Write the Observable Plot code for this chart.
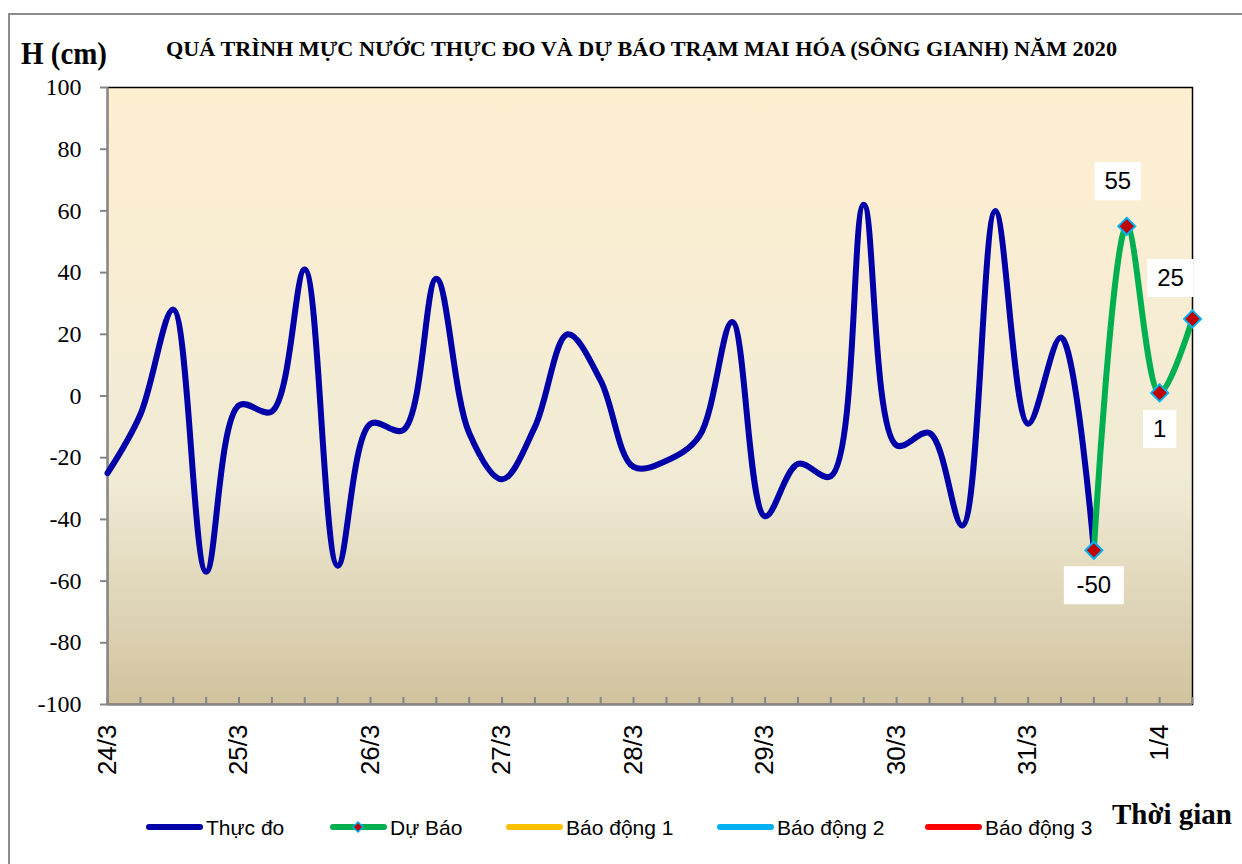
<!DOCTYPE html>
<html><head><meta charset="utf-8">
<script src="https://cdn.jsdelivr.net/npm/d3@7"></script>
<script src="https://cdn.jsdelivr.net/npm/@observablehq/plot@0.6"></script>
<style>
html,body{margin:0;padding:0;background:#fff;}
#wrap{position:relative;width:1242px;height:864px;overflow:hidden;background:#fff;}
#chart{position:absolute;left:0;top:0;}
#overlay{position:absolute;left:0;top:0;}
</style></head><body>
<div id="wrap"><div id="chart"></div><svg id="overlay" width="1242" height="864"></svg></div>
<script>
// ---------- data ----------
const title = "QUÁ TRÌNH MỰC NƯỚC THỰC ĐO VÀ DỰ BÁO TRẠM MAI HÓA (SÔNG GIANH) NĂM  2020";
const yTitle = "H (cm)";
const xTitle = "Thời gian";
const seriesNames = ["Thực đo", "Dự Báo", "Báo động 1", "Báo động 2", "Báo động 3"];
const seriesColors = ["#0000A8", "#00B050", "#FFC000", "#00B0F0", "#FF0000"];
// measured water level, every 6 hours from 24/3 00h
const measured = [-25, -6, 28, -57, -3, -5, 41, -55, -9, -11, 38, -12, -27, -10, 20, 5,
  -23, -21, -13, 24, -39, -22, -26, 62, -16, -12, -42, 60, -9, 19, -50];
// forecast, every 6 hours from 31/3 12h
const forecast = [-50, 55, 1, 25];
const measuredStart = "2020-03-24T00:00Z";
const forecastStart = "2020-03-31T12:00Z";
const stepHours = 6;
const dayLabels = ["24/3", "25/3", "26/3", "27/3", "28/3", "29/3", "30/3", "31/3", "1/4"];
const yTicks = [-100, -80, -60, -40, -20, 0, 20, 40, 60, 80, 100];

// ---------- build tables ----------
const t0 = new Date(measuredStart);
const tf = new Date(forecastStart);
const measuredData = measured.map((v, i) => ({t: d3.utcHour.offset(t0, i * stepHours), v}));
const forecastData = forecast.map((v, i) => ({t: d3.utcHour.offset(tf, i * stepHours), v}));
const tEnd = forecastData[forecastData.length - 1].t;
const dayTicks = dayLabels.map((_, i) => d3.utcDay.offset(t0, i));
const dayLabelOf = new Map(dayTicks.map((d, i) => [+d, dayLabels[i]]));
const minorTicks = d3.utcHour.every(stepHours).range(t0, d3.utcHour.offset(tEnd, 1));

// ---------- styles ----------
const axisGray = "#868686";
const serif = "Liberation Serif";
const sans = "Liberation Sans";
const labelOffsets = [[0, 35], [-9, -45], [0, 36], [-22, -41]];
const diamond = (s) => ({draw(ctx) { ctx.moveTo(0, -s); ctx.lineTo(s, 0); ctx.lineTo(0, s); ctx.lineTo(-s, 0); ctx.closePath(); }});
const box = (w, h) => ({draw(ctx) { ctx.rect(-w / 2, -h / 2, w, h); }});

function background(index, scales, values, dims) {
  const g = d3.create("svg:g");
  const grad = g.append("defs").append("linearGradient")
    .attr("id", "parchment").attr("x1", 0).attr("y1", 0).attr("x2", 0).attr("y2", 1);
  grad.append("stop").attr("offset", "0%").attr("stop-color", "#FFEFD1");
  grad.append("stop").attr("offset", "64%").attr("stop-color", "#F0EBD5");
  grad.append("stop").attr("offset", "100%").attr("stop-color", "#D1C39F");
  g.append("rect")
    .attr("x", dims.marginLeft).attr("y", dims.marginTop)
    .attr("width", dims.width - dims.marginLeft - dims.marginRight)
    .attr("height", dims.height - dims.marginTop - dims.marginBottom)
    .attr("fill", "url(#parchment)");
  return g.node();
}

const labelMarks = forecastData.flatMap((d, i) => {
  const txt = String(d.v);
  const w = txt.length * 13.3 + 20;
  const [dx, dy] = labelOffsets[i];
  return [
    Plot.dot([d], {x: "t", y: "v", symbol: box(w, 38), r: 10, fill: "white", stroke: "none", dx, dy}),
    Plot.text([d], {x: "t", y: "v", text: () => txt, dx, dy, fontSize: 24, fill: "black", fontFamily: sans})
  ];
});

const lineOpts = {x: "t", y: "v", curve: "catmull-rom", strokeWidth: 6, strokeLinecap: "round", strokeLinejoin: "round"};

const chart = Plot.plot({
  width: 1242, height: 864,
  marginLeft: 107, marginRight: 50, marginTop: 87, marginBottom: 160,
  style: {background: "transparent", fontFamily: sans, color: "black", overflow: "visible"},
  x: {type: "utc", domain: [t0, tEnd]},
  y: {domain: [-100, 100]},
  marks: [
    background,
    Plot.frame({stroke: "black", strokeWidth: 1.5}),
    Plot.ruleX([t0], {stroke: axisGray, strokeWidth: 2}),
    Plot.ruleY([-100], {stroke: axisGray, strokeWidth: 2}),
    Plot.axisY({ticks: yTicks, tickSize: 7, tickPadding: 19, stroke: axisGray, strokeWidth: 2,
      tickFormat: (d) => String(d), fill: "black", fontSize: 24, fontFamily: serif, label: null}),
    Plot.axisX({ticks: minorTicks, tickSize: 7, dy: -7, tickFormat: () => "", stroke: axisGray, strokeWidth: 2, label: null}),
    Plot.axisX({ticks: dayTicks, tickSize: 0, tickPadding: 20, tickRotate: -90, tickFormat: (d) => dayLabelOf.get(+d),
      fontSize: 26, fontFamily: sans, fill: "black", label: null}),
    Plot.line(measuredData, {...lineOpts, stroke: seriesColors[0]}),
    Plot.line(forecastData, {...lineOpts, stroke: seriesColors[1]}),
    Plot.dot(forecastData, {x: "t", y: "v", symbol: diamond(8.5), r: 8, fill: "#C00000", stroke: "#00B0F0", strokeWidth: 2}),
    ...labelMarks
  ]
});
document.getElementById("chart").appendChild(chart);

// ---------- overlay: border, titles, legend ----------
const ov = d3.select("#overlay");
ov.append("path").attr("d", "M9,864V14H1242").attr("fill", "none").attr("stroke", "#8C8C8C").attr("stroke-width", 2);
ov.append("text").attr("x", 166).attr("y", 56).attr("textLength", 951).attr("lengthAdjust", "spacingAndGlyphs")
  .attr("font-family", serif).attr("font-weight", "bold").attr("font-size", 22)
  .attr("fill", "black").text(title);
ov.append("text").attr("x", 21).attr("y", 64).attr("textLength", 86).attr("lengthAdjust", "spacingAndGlyphs")
  .attr("font-family", serif).attr("font-weight", "bold").attr("font-size", 31)
  .attr("fill", "black").text(yTitle);
ov.append("text").attr("x", 1112).attr("y", 824).attr("textLength", 120).attr("lengthAdjust", "spacingAndGlyphs")
  .attr("font-family", serif).attr("font-weight", "bold").attr("font-size", 29)
  .attr("fill", "black").text(xTitle);

const legendX = [146, 330, 506, 717, 925];
const legendY = 827;
seriesNames.forEach((name, i) => {
  const x = legendX[i];
  ov.append("line").attr("x1", x + 3).attr("x2", x + 54).attr("y1", legendY).attr("y2", legendY)
    .attr("stroke", seriesColors[i]).attr("stroke-width", 6).attr("stroke-linecap", "round");
  if (i === 1) {
    ov.append("path").attr("d", `M${x + 28},${legendY - 5}l5,5l-5,5l-5,-5z`)
      .attr("fill", "#C00000").attr("stroke", "#00B0F0").attr("stroke-width", 1.5);
  }
  ov.append("text").attr("x", x + 60).attr("y", legendY + 7.5)
    .attr("font-family", sans).attr("font-size", 21).attr("fill", "black").text(name);
});
</script>
</body></html>
